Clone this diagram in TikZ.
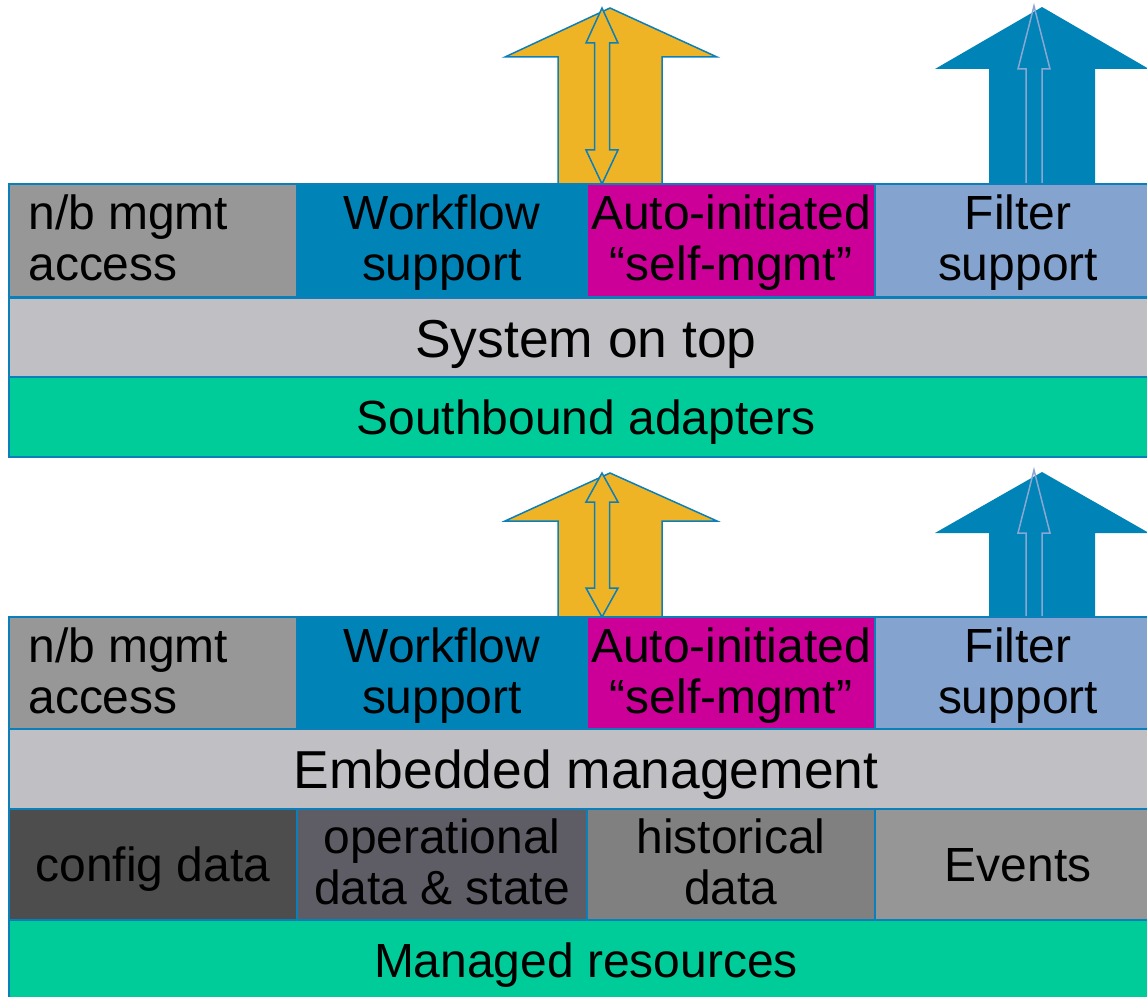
\documentclass[tikz,border=0pt]{standalone}
\usepackage{fontspec}
\setmainfont{Liberation Sans}
\definecolor{edge}{HTML}{0A7FBA}
\definecolor{nbgrey}{HTML}{979797}
\definecolor{wfblue}{HTML}{0083B7}
\definecolor{selfmag}{HTML}{CC0099}
\definecolor{filterblue}{HTML}{84A3CF}
\definecolor{layergrey}{HTML}{C0BFC4}
\definecolor{adaptgreen}{HTML}{00CC9A}
\definecolor{flowyellow}{HTML}{EFB426}
\definecolor{cfggrey}{HTML}{4D4D4D}
\definecolor{opgrey}{HTML}{5E5D66}
\definecolor{histgrey}{HTML}{808080}
\definecolor{evgrey}{HTML}{969696}
\definecolor{innerline}{HTML}{8AA7D3}
\newcommand{\cellfont}{\fontsize{27.3}{28.9}\selectfont}
\newcommand{\widefont}{\fontsize{30.4}{33}\selectfont}
\begin{document}
\begin{tikzpicture}[x=0.02cm,y=-0.02cm,
  cell/.style={draw=edge, line width=0.03cm, inner sep=0pt, align=center,
    font=\cellfont, text=black, text depth=0pt},
  twoline/.style={text depth=0.1cm},
  celltext/.style={inner sep=0pt, align=left, font=\cellfont, text=black,
    twoline, anchor=west},
  widecell/.style={cell, font=\widefont},
  rowcell/.style={cell, minimum width=5.76cm},
  fullrow/.style={minimum width=23.08cm, minimum height=1.6cm},
  flowarrow/.style={draw=edge, fill=flowyellow, line width=0.03cm, line join=miter},
  eventarrow/.style={fill=wfblue},
  eventinner/.style={draw=innerline, line width=0.03cm, line join=miter}]
\useasboundingbox (0,0) rectangle (1147,997);
\clip (0,0) rectangle (1147,997);

% ---- upper stack: arrows leaving the top row ----
\draw[flowarrow] (558,184) -- (558,57) -- (505,57) -- (610,8) -- (717,57)
  -- (662,57) -- (662,184) -- cycle;
\draw[flowarrow] (602,8) -- (618,43) -- (609.5,43) -- (609.5,150) -- (618,150)
  -- (602,184) -- (586,150) -- (594.5,150) -- (594.5,43) -- (586,43) -- cycle;
\fill[eventarrow] (989,184) -- (989,69) -- (935,69) -- (1042,7) -- (1149,69)
  -- (1095,69) -- (1095,184) -- cycle;
\draw[eventinner] (1026,184) -- (1026,69) -- (1018,69) -- (1034,6) -- (1050,69)
  -- (1042,69) -- (1042,184);

% ---- lower stack: arrows leaving the top row ----
\draw[flowarrow] (558,617) -- (558,521) -- (505,521) -- (610,473) -- (717,521)
  -- (662,521) -- (662,617) -- cycle;
\draw[flowarrow] (602,473) -- (618,502) -- (609.5,502) -- (609.5,588) -- (618,588)
  -- (602,617) -- (586,588) -- (594.5,588) -- (594.5,502) -- (586,502) -- cycle;
\fill[eventarrow] (989,617) -- (989,533) -- (935,533) -- (1042,472) -- (1149,533)
  -- (1095,533) -- (1095,617) -- cycle;
\draw[eventinner] (1026,617) -- (1026,533) -- (1018,533) -- (1034,470) -- (1050,533)
  -- (1042,533) -- (1042,617);

% ---- upper stack: System on top ----
\node[rowcell, fill=nbgrey, minimum height=2.26cm] (nbU) at (153,240.5) {};
\node[celltext] (nbUtext) at (28,240.5) {n/b mgmt\\access};
\node[rowcell, twoline, fill=wfblue, minimum width=5.8cm, minimum height=2.26cm]
  (wfU) at (442,240.5) {Workflow\\support};
\node[rowcell, twoline, fill=selfmag, minimum height=2.26cm]
  (selfU) at (731,240.5) {Auto-initiated\\“self-mgmt”};
\node[rowcell, twoline, fill=filterblue, minimum width=5.72cm, minimum height=2.26cm]
  (filterU) at (1018,240.5) {Filter\\support};
\node[widecell, fullrow, fill=layergrey] (sysU) at (586,338.5) {System on top};
\node[cell, fullrow, fill=adaptgreen] (sbU) at (586,417) {Southbound adapters};

% ---- lower stack: Embedded management ----
\node[rowcell, fill=nbgrey, minimum height=2.24cm] (nbL) at (153,673) {};
\node[celltext] (nbLtext) at (28,673) {n/b mgmt\\access};
\node[rowcell, twoline, fill=wfblue, minimum width=5.8cm, minimum height=2.24cm]
  (wfL) at (442,673) {Workflow\\support};
\node[rowcell, twoline, fill=selfmag, minimum height=2.24cm]
  (selfL) at (731,673) {Auto-initiated\\“self-mgmt”};
\node[rowcell, twoline, fill=filterblue, minimum width=5.72cm, minimum height=2.24cm]
  (filterL) at (1018,673) {Filter\\support};
\node[widecell, fullrow, fill=layergrey] (embL) at (586,769) {Embedded management};
\node[rowcell, fill=cfggrey, minimum height=2.22cm]
  (cfgL) at (153,864.5) {config data};
\node[rowcell, twoline, fill=opgrey, minimum width=5.8cm, minimum height=2.22cm]
  (opL) at (442,864.5) {operational\\data \& state};
\node[rowcell, twoline, fill=histgrey, minimum height=2.22cm]
  (histL) at (731,864.5) {historical\\data};
\node[rowcell, fill=evgrey, minimum width=5.72cm, minimum height=2.22cm]
  (evL) at (1018,864.5) {Events};
\node[cell, fullrow, fill=adaptgreen] (resL) at (586,960) {Managed resources};
\end{tikzpicture}
\end{document}
